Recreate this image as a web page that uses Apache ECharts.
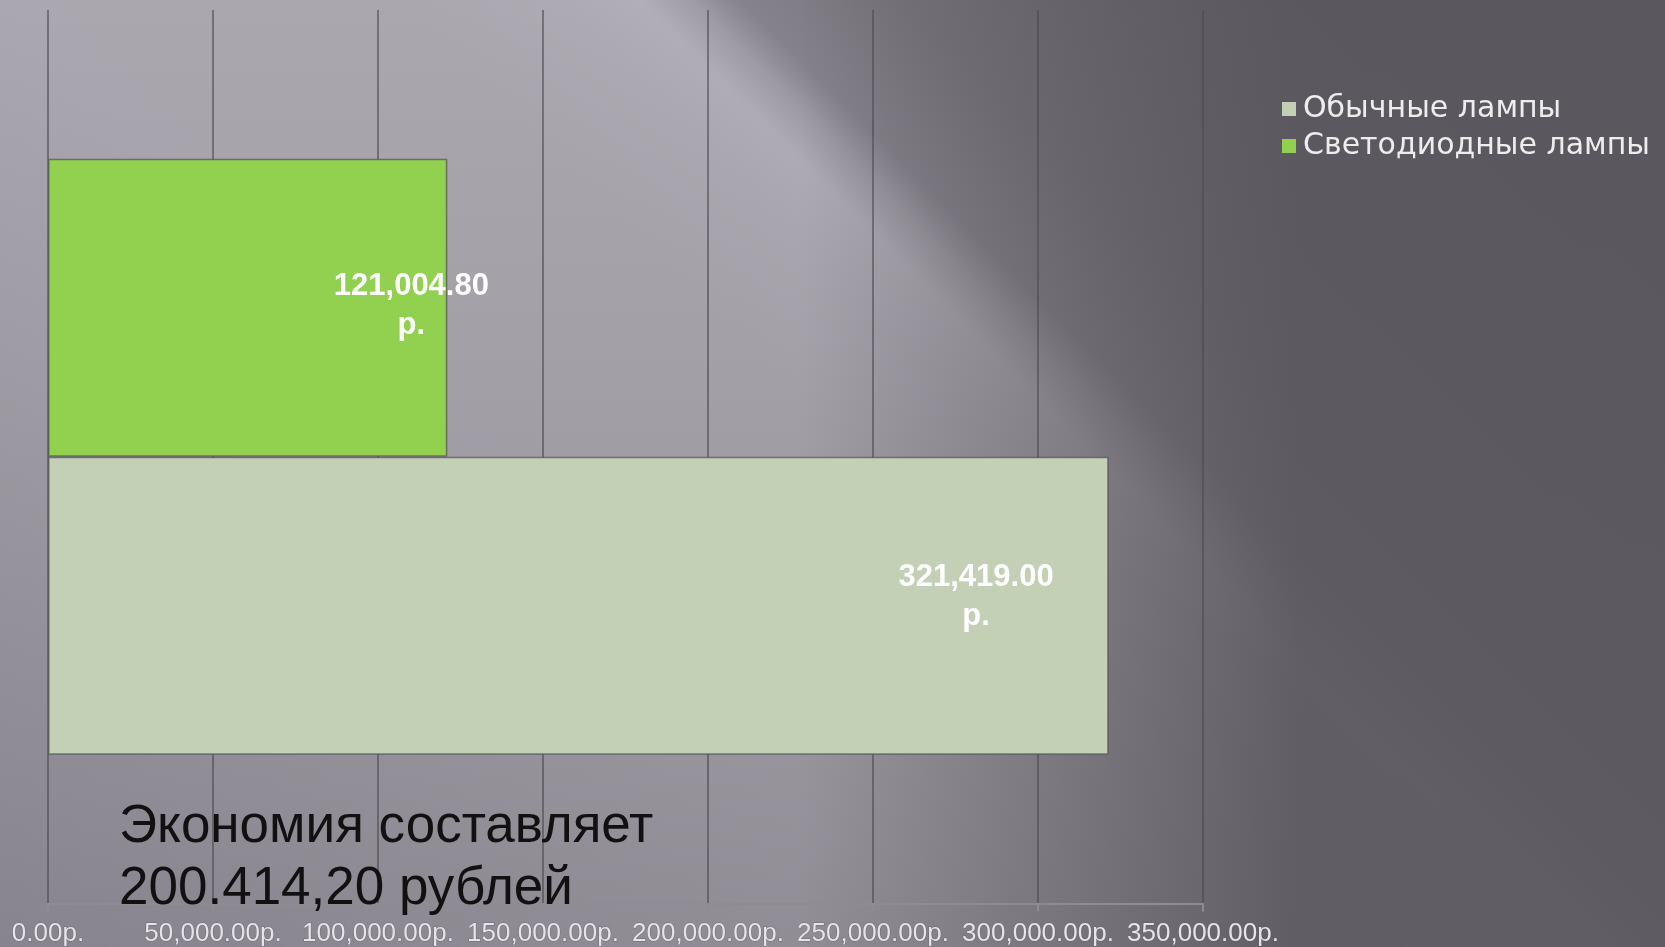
<!DOCTYPE html>
<html>
<head>
<meta charset="utf-8">
<script src="https://cdn.jsdelivr.net/npm/echarts@6/dist/echarts.min.js"></script>
<style>
html,body{margin:0;padding:0;background:#8a8690;}
#chart{width:1665px;height:947px;}
</style>
</head>
<body>
<div id="chart"></div>
<script>
// ---- data ----
var categories = [''];
var seriesNames = ['Обычные лампы', 'Светодиодные лампы'];
var regularLamps = [321419.00];
var ledLamps = [121004.80];
var xTickValues = [0, 50000, 100000, 150000, 200000, 250000, 300000, 350000];
var xTickLabels = ['0.00р.', '50,000.00р.', '100,000.00р.', '150,000.00р.', '200,000.00р.', '250,000.00р.', '300,000.00р.', '350,000.00р.'];
var noteLines = ['Экономия составляет', '200.414,20 рублей'];

function fmtMoney(v) {
  return v.toLocaleString('en-US', {minimumFractionDigits: 2, maximumFractionDigits: 2});
}

var chart = echarts.init(document.getElementById('chart'));

// diagonal background: parameter t = x - y, offset = (t + 947) / 2612
function off(t) { return (t + 947) / 2612; }
var diagGrad = {
  type: 'linear', x: 0, y: 947, x2: 1306, y2: -359, global: true,
  colorStops: [
    {offset: off(-947), color: '#9c98a2'},
    {offset: off(-600), color: '#a29ea8'},
    {offset: off(-300), color: '#a7a3ac'},
    {offset: off(0), color: '#aba7b0'},
    {offset: off(400), color: '#aba7af'},
    {offset: off(560), color: '#aeaab3'},
    {offset: off(640), color: '#b2aeb7'},
    {offset: off(690), color: '#a09ca5'},
    {offset: off(740), color: '#86828b'},
    {offset: off(900), color: '#78747c'},
    {offset: off(1300), color: '#69656c'},
    {offset: off(1665), color: '#605c62'}
  ]
};
var rightDark = {
  type: 'linear', x: 800, y: 0, x2: 1300, y2: 0, global: true,
  colorStops: [
    {offset: 0, color: 'rgba(90,86,93,0)'},
    {offset: 1, color: 'rgba(90,86,93,0.9)'}
  ]
};
var bottomDark = {
  type: 'linear', x: 0, y: 0, x2: 0, y2: 947, global: true,
  colorStops: [
    {offset: 0, color: 'rgba(94,90,97,0)'},
    {offset: 0.4, color: 'rgba(94,90,97,0.1)'},
    {offset: 1, color: 'rgba(94,90,97,0.32)'}
  ]
};

var option = {
  animation: false,
  backgroundColor: 'transparent',
  graphic: [
    {type: 'rect', z: -100, shape: {x: 0, y: 0, width: 1665, height: 947}, style: {fill: diagGrad}},
    {type: 'rect', z: -99, shape: {x: 800, y: 0, width: 865, height: 947}, style: {fill: rightDark}},
    {type: 'rect', z: -98, shape: {x: 0, y: 0, width: 1665, height: 947}, style: {fill: bottomDark}},
    {type: 'text', z: 50, left: 119, top: 796,
      style: {text: noteLines.join('\n'), font: '53px "Liberation Sans", Arial, sans-serif', fill: '#111111', lineHeight: 62}}
  ],
  legend: {
    orient: 'vertical',
    left: 1277,
    top: 89,
    itemWidth: 14,
    itemHeight: 14,
    itemGap: 7,
    icon: 'rect',
    data: seriesNames,
    itemStyle: {borderWidth: 0},
    textStyle: {color: '#ededed', fontSize: 30, lineHeight: 30, fontFamily: '"DejaVu Sans", sans-serif', padding: [0, 0, 0, 2]}
  },
  grid: {left: 48, right: 462, top: 10, bottom: 39, containLabel: false},
  xAxis: {
    type: 'value',
    min: 0,
    max: 350000,
    interval: 50000,
    axisLine: {show: true, lineStyle: {color: '#8e8b93', width: 2}},
    axisTick: {show: true, length: 8, lineStyle: {color: '#8e8b93', width: 2}},
    splitLine: {show: true, lineStyle: {color: 'rgba(78,74,82,0.6)', width: 2}},
    axisLabel: {
      margin: 17,
      color: '#e6e4e8',
      fontSize: 26,
      fontFamily: '"Liberation Sans", Arial, sans-serif',
      textBorderColor: 'rgba(90,88,96,0.6)',
      textBorderWidth: 1,
      formatter: function (v) {
        var i = xTickValues.indexOf(v);
        return i >= 0 ? xTickLabels[i] : '';
      }
    }
  },
  yAxis: {
    type: 'category',
    data: categories,
    axisLine: {show: false},
    axisTick: {show: false},
    axisLabel: {show: false},
    splitLine: {show: false}
  },
  series: [
    {
      name: seriesNames[1],
      type: 'bar',
      data: ledLamps,
      barGap: '0%',
      barCategoryGap: '33.3%',
      itemStyle: {color: '#92d050', borderColor: 'rgba(80,80,84,0.7)', borderWidth: 1.5},
      label: {
        show: true,
        position: ['91%', '49.4%'],
        align: 'center',
        verticalAlign: 'middle',
        color: '#ffffff',
        fontWeight: 'bold',
        fontSize: 31,
        lineHeight: 39,
        fontFamily: '"Liberation Sans", Arial, sans-serif',
        formatter: function (p) { return fmtMoney(p.value) + '\nр.'; }
      }
    },
    {
      name: seriesNames[0],
      type: 'bar',
      data: regularLamps,
      barGap: '0%',
      barCategoryGap: '33.3%',
      itemStyle: {color: '#c3d0b5', borderColor: 'rgba(80,80,84,0.7)', borderWidth: 1.5},
      label: {
        show: true,
        position: ['87.5%', '46.9%'],
        align: 'center',
        verticalAlign: 'middle',
        color: '#ffffff',
        fontWeight: 'bold',
        fontSize: 31,
        lineHeight: 39,
        fontFamily: '"Liberation Sans", Arial, sans-serif',
        formatter: function (p) { return fmtMoney(p.value) + '\nр.'; }
      }
    }
  ]
};
chart.setOption(option);
</script>
</body>
</html>
